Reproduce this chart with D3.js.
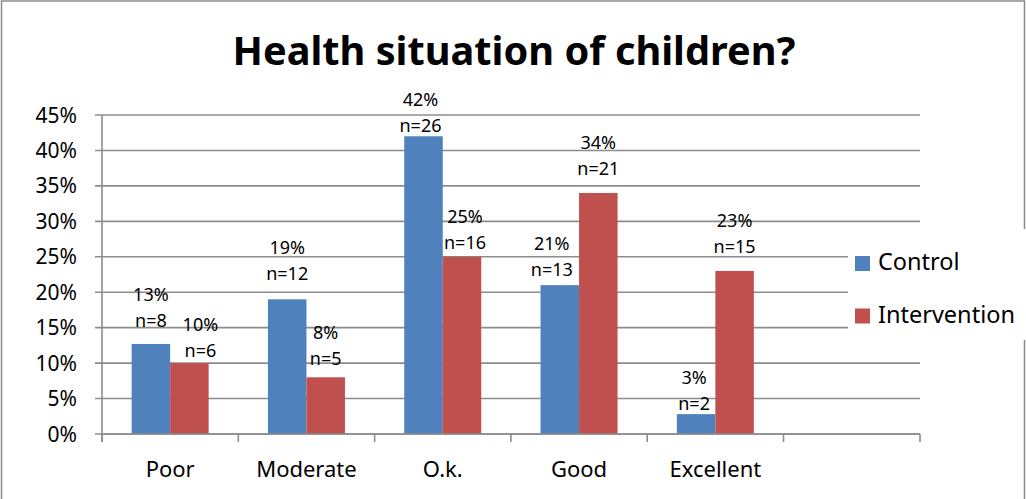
<!DOCTYPE html>
<html>
<head>
<meta charset="utf-8">
<script src="https://cdn.jsdelivr.net/npm/d3@7"></script>
<style>
  html, body { margin: 0; padding: 0; background: #fff; }
  svg { display: block; }
  text { font-family: "Noto Sans", "Open Sans", sans-serif; fill: #000; }
</style>
</head>
<body>
<svg id="chart" width="1026" height="499"></svg>
<script>
// ---- data ----
const categories = ["Poor", "Moderate", "O.k.", "Good", "Excellent"];
const seriesNames = ["Control", "Intervention"];
const controlValues = [0.127, 0.19, 0.42, 0.21, 0.028];
const interventionValues = [0.10, 0.08, 0.25, 0.34, 0.23];
const controlPctLabels = ["13%", "19%", "42%", "21%", "3%"];
const interventionPctLabels = ["10%", "8%", "25%", "34%", "23%"];
const controlN = [8, 12, 26, 13, 2];
const interventionN = [6, 5, 16, 21, 15];
const yTicks = [0, 0.05, 0.10, 0.15, 0.20, 0.25, 0.30, 0.35, 0.40, 0.45];
const titleText = "Health situation of children?";

// label nudges (as placed in the original), px
const controlLabelDx = [0, 0, -3, -8, -2];
const controlLabelGap = [17, 19, 4, 9, 4];
const interventionLabelDx = [11, 0, 3, 0, 0];
const interventionLabelGap = [6, 12, 8, 18, 18];

const colors = { Control: "#4F81BD", Intervention: "#C0504D" };
const gridColor = "#8C8C8C";

const svg = d3.select("#chart");

// frame
svg.append("rect")
  .attr("x", 1.5).attr("y", 1).attr("width", 1023).attr("height", 520)
  .attr("fill", "#fff").attr("stroke", "#8A8A8A").attr("stroke-width", 1.5);

// scales
const plotLeft = 102, plotRight = 920;
const x = d3.scaleBand().domain(categories).range([plotLeft, plotLeft + 5 * 136.3]).padding(0);
const xSub = d3.scaleBand().domain(seriesNames).range([0, x.bandwidth()]).paddingInner(0).paddingOuter(0.77);
const y = d3.scaleLinear().domain([0, 0.45]).range([434, 115]);

// gridlines + y ticks
svg.append("g").selectAll("line").data(yTicks).join("line")
  .attr("x1", plotLeft - 7).attr("x2", plotRight)
  .attr("y1", d => y(d)).attr("y2", d => y(d))
  .attr("stroke", gridColor).attr("stroke-width", 1.6);

svg.append("g").selectAll("text").data(yTicks).join("text")
  .attr("x", 77).attr("y", d => y(d)).attr("dy", "0.36em")
  .attr("text-anchor", "end").attr("font-size", 21)
  .text(d => d3.format(".0%")(d));

// y axis line
svg.append("line").attr("x1", plotLeft).attr("x2", plotLeft)
  .attr("y1", y(0.45)).attr("y2", y(0) + 8)
  .attr("stroke", gridColor).attr("stroke-width", 1.6);

// bars
const rows = categories.map((c, i) => ({
  cat: c,
  items: [
    { s: "Control", v: controlValues[i], pct: controlPctLabels[i], n: controlN[i], dx: controlLabelDx[i], gap: controlLabelGap[i] },
    { s: "Intervention", v: interventionValues[i], pct: interventionPctLabels[i], n: interventionN[i], dx: interventionLabelDx[i], gap: interventionLabelGap[i] }
  ]
}));

const groups = svg.append("g").selectAll("g").data(rows).join("g")
  .attr("transform", d => `translate(${x(d.cat)},0)`);

groups.selectAll("rect").data(d => d.items).join("rect")
  .attr("x", d => xSub(d.s)).attr("width", xSub.bandwidth())
  .attr("y", d => y(d.v)).attr("height", d => y(0) - y(d.v))
  .attr("fill", d => colors[d.s]);

// data labels
groups.selectAll("text.n").data(d => d.items).join("text").attr("class", "n")
  .attr("x", d => xSub(d.s) + xSub.bandwidth() / 2 + d.dx)
  .attr("y", d => y(d.v) - d.gap)
  .attr("text-anchor", "middle").attr("font-size", 18)
  .text(d => "n=" + d.n);
groups.selectAll("text.p").data(d => d.items).join("text").attr("class", "p")
  .attr("x", d => xSub(d.s) + xSub.bandwidth() / 2 + d.dx)
  .attr("y", d => y(d.v) - d.gap - 26)
  .attr("text-anchor", "middle").attr("font-size", 18)
  .text(d => d.pct);

// x axis
svg.append("line").attr("x1", plotLeft).attr("x2", plotRight)
  .attr("y1", y(0)).attr("y2", y(0))
  .attr("stroke", gridColor).attr("stroke-width", 1.6);
const xTickPos = categories.map(c => x(c)).concat([x.range()[1], plotRight]);
svg.append("g").selectAll("line").data(xTickPos).join("line")
  .attr("x1", d => d).attr("x2", d => d)
  .attr("y1", y(0)).attr("y2", y(0) + 8)
  .attr("stroke", gridColor).attr("stroke-width", 1.6);
svg.append("g").selectAll("text").data(categories).join("text")
  .attr("x", d => x(d) + x.bandwidth() / 2).attr("y", 477)
  .attr("text-anchor", "middle").attr("font-size", 22)
  .text(d => d);

// title (fit to original width)
const title = svg.append("text")
  .attr("x", 514).attr("y", 65).attr("text-anchor", "middle")
  .attr("font-weight", "bold").attr("font-size", 40)
  .text(titleText);
const tw = title.node().getComputedTextLength();
title.attr("font-size", 40 * 563 / tw);

// legend
const legend = svg.append("g");
legend.append("rect").attr("x", 848).attr("y", 229).attr("width", 180).attr("height", 111).attr("fill", "#fff");
const li = legend.selectAll("g").data(seriesNames).join("g")
  .attr("transform", (d, i) => `translate(855,${256 + i * 52.5})`);
li.append("rect").attr("width", 15).attr("height", 15).attr("fill", d => colors[d]);
li.append("text").attr("x", 23).attr("y", 14).attr("font-size", 23.5).text(d => d);
</script>
</body>
</html>
